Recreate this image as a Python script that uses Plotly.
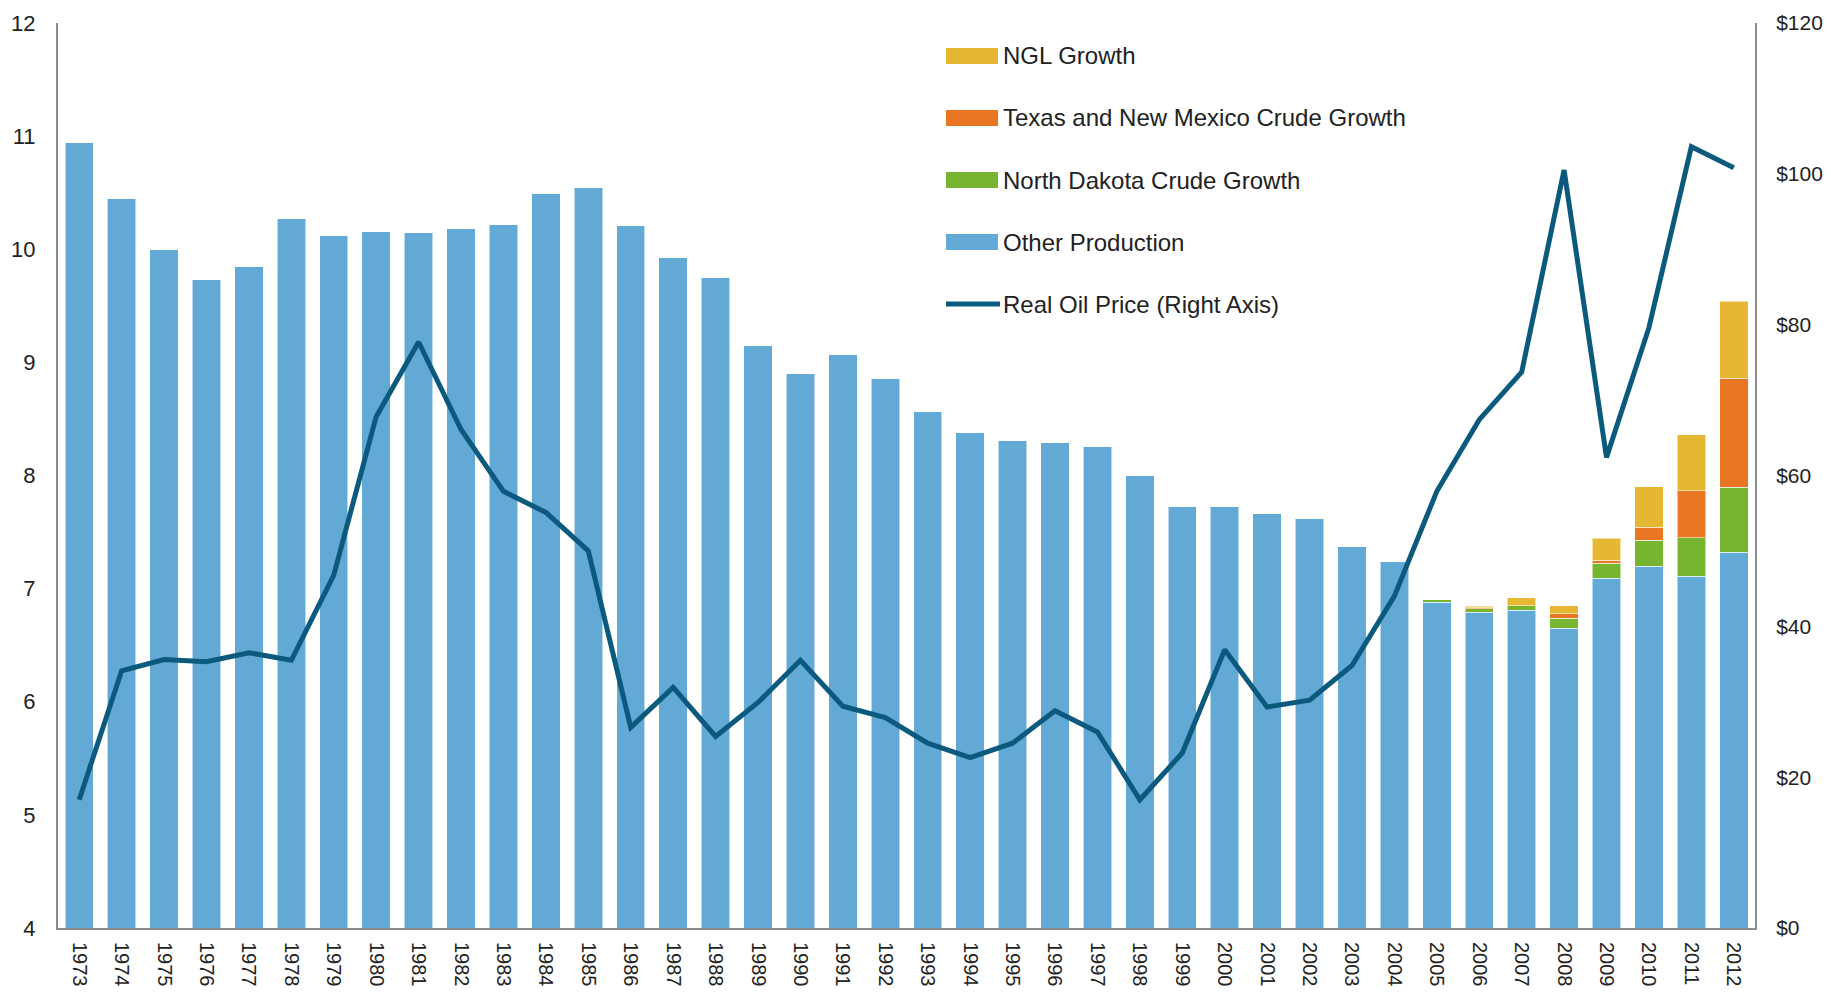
import plotly.graph_objects as go

years = [str(y) for y in range(1973, 2013)]

other_production = [
    10.94, 10.45, 10.00, 9.73, 9.85, 10.27, 10.12, 10.16, 10.15, 10.18,
    10.22, 10.49, 10.55, 10.21, 9.93, 9.75, 9.15, 8.90, 9.07, 8.86,
    8.57, 8.38, 8.31, 8.29, 8.26, 8.00, 7.73, 7.73, 7.66, 7.62,
    7.37, 7.24, 6.88, 6.79, 6.81, 6.65, 7.09, 7.20, 7.11, 7.32,
]
nd_growth = [0] * 32 + [0.02, 0.03, 0.04, 0.09, 0.135, 0.227, 0.341, 0.577]
txnm_growth = [0] * 32 + [0.0, 0.01, 0.0, 0.04, 0.027, 0.115, 0.416, 0.964]
ngl_growth = [0] * 32 + [0.0, 0.015, 0.07, 0.07, 0.195, 0.359, 0.495, 0.681]

oil_price = [
    17.0, 34.1, 35.6, 35.3, 36.5, 35.5, 46.8, 67.8, 77.7, 66.1,
    57.9, 55.1, 50.0, 26.6, 31.9, 25.4, 29.9, 35.5, 29.4, 27.9,
    24.5, 22.6, 24.5, 28.8, 26.0, 17.0, 23.2, 36.9, 29.3, 30.2,
    34.8, 44.0, 57.9, 67.4, 73.7, 100.5, 62.4, 79.6, 103.6, 100.8,
]

legend_labels = [
    "NGL Growth",
    "Texas and New Mexico Crude Growth",
    "North Dakota Crude Growth",
    "Other Production",
    "Real Oil Price (Right Axis)",
]

BLUE = "#63a9d6"
GREEN = "#77b42f"
ORANGE = "#e87623"
YELLOW = "#e5b732"
LINE = "#0b5a7e"
FONT = "Liberation Sans Narrow, Arial Narrow, Liberation Sans, Arial, sans-serif"

# page has an 8px body margin, so the figure is a bit smaller than the window
OFF = 8
W, H = 1831 - 2 * OFF, 994 - 2 * OFF
L, R, T, B = 50, 68, 15, 58

fig = go.Figure()

edge = dict(color="rgba(255,255,255,0.55)", width=1)
for vals, col, name in [
    (other_production, BLUE, "Other Production"),
    (nd_growth, GREEN, "North Dakota Crude Growth"),
    (txnm_growth, ORANGE, "Texas and New Mexico Crude Growth"),
    (ngl_growth, YELLOW, "NGL Growth"),
]:
    fig.add_trace(go.Bar(
        x=years, y=vals, name=name,
        marker=dict(color=col, line=edge),
        showlegend=False,
    ))

fig.add_trace(go.Scatter(
    x=years, y=oil_price, yaxis="y2",
    mode="lines", name="Real Oil Price (Right Axis)",
    line=dict(color=LINE, width=5),
    showlegend=False,
))


# legend drawn by hand so swatches can be wide like the original
def px_x(p):
    return (p - OFF - L) / (W - L - R)


def px_y(p):
    return (H - B - (p - OFF)) / (H - T - B)


legend_colors = [YELLOW, ORANGE, GREEN, BLUE, LINE]
row_y = [56, 118, 180, 242, 304]
shapes = []
annotations = []
for i, (lab, col) in enumerate(zip(legend_labels, legend_colors)):
    cy = row_y[i]
    if i < 4:
        shapes.append(dict(
            type="rect", xref="paper", yref="paper",
            x0=px_x(946), x1=px_x(998), y0=px_y(cy + 8), y1=px_y(cy - 8),
            fillcolor=col, line=dict(width=0),
        ))
    else:
        shapes.append(dict(
            type="line", xref="paper", yref="paper",
            x0=px_x(946), x1=px_x(1000), y0=px_y(cy), y1=px_y(cy),
            line=dict(color=col, width=5),
        ))
    annotations.append(dict(
        text=lab, xref="paper", yref="paper",
        x=px_x(1001), y=px_y(cy), xanchor="left", yanchor="middle",
        showarrow=False, font=dict(size=24, color="#222222", family=FONT),
    ))

fig.update_layout(
    width=W, height=H,
    margin=dict(l=L, r=R, t=T, b=B),
    paper_bgcolor="white", plot_bgcolor="white",
    barmode="stack", bargap=0.33,
    font=dict(family=FONT, size=22, color="#222222"),
    xaxis=dict(
        type="category", tickangle=90, automargin=False,
        showline=True, linecolor="#8c8c8c", linewidth=2,
        ticks="outside", ticklen=8, tickcolor="rgba(0,0,0,0)",
        tickfont=dict(size=20), showgrid=False,
    ),
    yaxis=dict(
        range=[4, 12], dtick=1, automargin=False,
        showline=True, linecolor="#8c8c8c", linewidth=2,
        ticks="outside", ticklen=16, tickcolor="rgba(0,0,0,0)",
        showgrid=False, zeroline=False,
    ),
    yaxis2=dict(
        range=[0, 120], dtick=20, tickprefix="$", automargin=False,
        overlaying="y", side="right",
        showline=True, linecolor="#8c8c8c", linewidth=2,
        ticks="outside", ticklen=15, tickcolor="rgba(0,0,0,0)",
        tickfont=dict(size=21),
        showgrid=False, zeroline=False,
    ),
    shapes=shapes,
    annotations=annotations,
)

fig.write_html("out.html")
